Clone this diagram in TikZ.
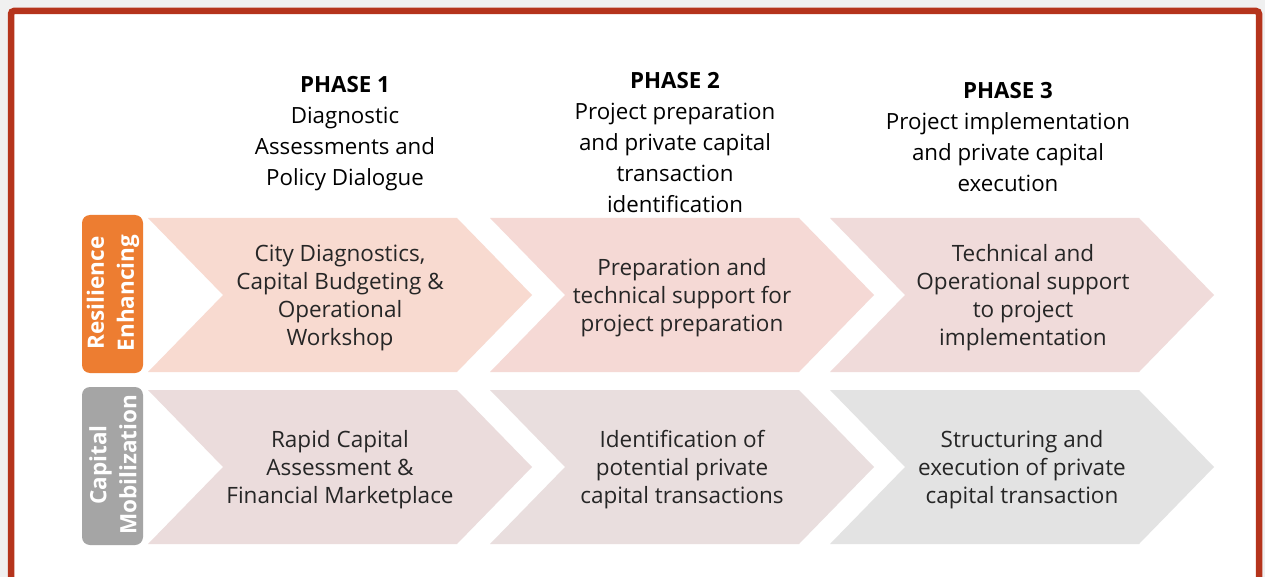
\documentclass[tikz,border=0pt]{standalone}
\usepackage{fontspec}
\setmainfont{Open Sans}
\definecolor{bgout}{HTML}{F0F0F0}
\definecolor{framec}{HTML}{B5341C}
\definecolor{orangel}{HTML}{ED7D31}
\definecolor{greyl}{HTML}{A5A5A5}
\definecolor{caa}{HTML}{F8DAD0}
\definecolor{cab}{HTML}{F5D9D5}
\definecolor{cac}{HTML}{F0DBDA}
\definecolor{cba}{HTML}{EBDCDC}
\definecolor{cbb}{HTML}{E9DEDE}
\definecolor{cbc}{HTML}{E3E3E3}
\definecolor{txt}{HTML}{262626}
\tikzset{
  bodytext/.style={align=center, text=txt, font=\fontsize{22.5}{28}\selectfont, inner sep=0pt},
  headtext/.style={align=center, text=black, font=\fontsize{22.3}{31}\selectfont, inner sep=0pt},
  lab/.style={rounded corners=8pt},
  labtext/.style={align=center, text=white, rotate=90, font=\bfseries\fontsize{22.5}{30}\selectfont, inner sep=0pt}
}
\newcommand\chevshape[3]{%
  \fill[#3] (#1,#2) -- ++(309,0) -- ++(75,77) -- ++(-75,77) -- ++(-309,0) -- ++(75,-77) -- cycle;}
\begin{document}
\begin{tikzpicture}[x=1pt,y=-1pt]
\useasboundingbox (0,0) rectangle (1265,577);
\fill[bgout] (0,0) rectangle (1265,577);
\begin{scope}
\clip (0,0) rectangle (1265,577);
\draw[framec, line width=6.5pt, fill=white, rounded corners=3pt] (11,11) rectangle (1259,590);
\end{scope}
% chevrons
\chevshape{148}{218}{caa}
\chevshape{490}{218}{cab}
\chevshape{830}{218}{cac}
\chevshape{148}{390}{cba}
\chevshape{490}{390}{cbb}
\chevshape{830}{390}{cbc}
% row labels
\fill[orangel, lab] (82,215) rectangle (143,373);
\fill[greyl, lab] (82,387) rectangle (143,545);
\node[labtext] (lres) at (113,293) {Resilience\\Enhancing};
\node[labtext] (lcap) at (113,465) {Capital\\Mobilization};
% headers
\node[headtext] (h1) at (345,134) {\textbf{PHASE 1}\\Diagnostic\\Assessments and\\Policy Dialogue};
\node[headtext] (h2) at (675,143) {\textbf{PHASE 2}\\Project preparation\\and private capital\\transaction\\identification};
\node[headtext] (h3) at (1008,137) {\textbf{PHASE 3}\\Project implementation\\and private capital\\execution};
% body texts
\node[bodytext] (a1) at (340,298) {City Diagnostics,\\Capital Budgeting \&\\Operational\\Workshop};
\node[bodytext] (a2) at (682,298) {Preparation and\\technical support for\\project preparation};
\node[bodytext] (a3) at (1023,298) {Technical and\\Operational support\\to project\\implementation};
\node[bodytext] (b1) at (340,470) {Rapid Capital\\Assessment \&\\Financial Marketplace};
\node[bodytext] (b2) at (682,470) {Identification of\\potential private\\capital transactions};
\node[bodytext] (b3) at (1022,470) {Structuring and\\execution of private\\capital transaction};
\end{tikzpicture}
\end{document}
